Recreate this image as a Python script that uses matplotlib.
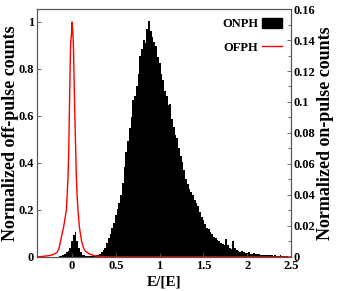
import numpy as np
import matplotlib
matplotlib.use("Agg")
import matplotlib.pyplot as plt
from matplotlib.patches import Patch
from matplotlib.lines import Line2D

plt.rcParams["font.family"] = ["Liberation Serif", "DejaVu Serif"]
plt.rcParams["font.weight"] = "bold"

# ────────────────────────────────
# Data
# ────────────────────────────────
# on-pulse histogram, bin width 0.02, right axis
ONPH_START = -0.15
ONPH_WIDTH = 0.02
onph_counts = [
    0.0003, 0.0005, 0.0010, 0.0020, 0.0030, 0.0040, 0.0060, 0.0100, 0.0140, 0.0160,
    0.0100, 0.0060, 0.0030, 0.0015, 0.0010, 0.0006, 0.0005, 0.0005, 0.0006, 0.0007,
    0.0008, 0.0010, 0.0015, 0.0020, 0.0030, 0.0045, 0.0060, 0.0090, 0.0120, 0.0150,
    0.0190, 0.0220, 0.0270, 0.0310, 0.0350, 0.0400, 0.0480, 0.0580, 0.0680, 0.0750,
    0.0830, 0.0900, 0.1010, 0.1040, 0.1100, 0.1180, 0.1300, 0.1340, 0.1400, 0.1380,
    0.1470, 0.1520, 0.1460, 0.1420, 0.1390, 0.1360, 0.1290, 0.1250, 0.1180, 0.1140,
    0.1070, 0.1040, 0.0980, 0.0990, 0.0890, 0.0840, 0.0790, 0.0770, 0.0700, 0.0650,
    0.0610, 0.0560, 0.0500, 0.0470, 0.0440, 0.0420, 0.0400, 0.0370, 0.0350, 0.0330,
    0.0290, 0.0260, 0.0240, 0.0210, 0.0190, 0.0180, 0.0160, 0.0150, 0.0130, 0.0120,
    0.0110, 0.0100, 0.0090, 0.0085, 0.0080, 0.0115, 0.0075, 0.0060, 0.0050, 0.0100,
    0.0060, 0.0045, 0.0040, 0.0035, 0.0040, 0.0030, 0.0028, 0.0025, 0.0030, 0.0022,
    0.0020, 0.0025, 0.0018, 0.0016, 0.0020, 0.0014, 0.0013, 0.0015, 0.0012, 0.0011,
    0.0013, 0.0010, 0.0009, 0.0011, 0.0009, 0.0008, 0.0010, 0.0008, 0.0007, 0.0009,
    0.0008,
]

# off-pulse curve, left axis
ofph_e = [-0.40, -0.32, -0.26, -0.22, -0.19, -0.17, -0.15, -0.133, -0.115, -0.095,
          -0.08, -0.065, -0.055, -0.046, -0.038, -0.03, -0.022, -0.016, -0.008, 0.0,
          0.008, 0.015, 0.022, 0.03, 0.04, 0.049, 0.058, 0.068, 0.075, 0.083,
          0.095, 0.11, 0.13, 0.15, 0.17, 0.20, 0.25, 0.30, 0.40, 2.50]
ofph_counts = [0.0, 0.003, 0.006, 0.01, 0.015, 0.02, 0.035, 0.065, 0.095, 0.13,
               0.165, 0.20, 0.27, 0.34, 0.45, 0.63, 0.80, 0.91, 0.94, 1.0,
               0.96, 0.91, 0.78, 0.63, 0.48, 0.34, 0.26, 0.20, 0.165, 0.13,
               0.10, 0.065, 0.04, 0.025, 0.02, 0.012, 0.006, 0.003, 0.0, 0.0]

xticks = [0, 0.5, 1, 1.5, 2, 2.5]
left_ticks = [0, 0.2, 0.4, 0.6, 0.8, 1]
right_ticks = [0, 0.02, 0.04, 0.06, 0.08, 0.1, 0.12, 0.14, 0.16]


def fmt(v):
    return "%g" % v


# ────────────────────────────────
# Figure
# ────────────────────────────────
fig = plt.figure(figsize=(3.46, 2.91), dpi=100)
ax = fig.add_axes([0.107, 0.117, 0.734, 0.852])
ax2 = ax.twinx()

centers = ONPH_START + ONPH_WIDTH * np.arange(len(onph_counts)) + ONPH_WIDTH / 2
ax2.bar(centers, onph_counts, width=ONPH_WIDTH, color="black", linewidth=0, zorder=2)
ax.plot(ofph_e, ofph_counts, color="red", lw=1.0, zorder=3)

# left axis above right so the red line is on top
ax.set_zorder(ax2.get_zorder() + 1)
ax.patch.set_visible(False)

ax.set_xlim(-0.4, 2.5)
ax.set_ylim(0, 1.055)
ax2.set_ylim(0, 0.16)

ax.set_xticks(xticks)
ax.set_xticklabels([fmt(v) for v in xticks], fontsize=9, fontweight="bold")
ax.set_yticks(left_ticks)
ax.set_yticklabels([fmt(v) for v in left_ticks], fontsize=9, fontweight="bold")
ax2.set_yticks(right_ticks)
ax2.set_yticklabels([fmt(v) for v in right_ticks], fontsize=9, fontweight="bold")
ax2.set_yticks(np.arange(0.01, 0.16, 0.02), minor=True)

ax.tick_params(axis="both", direction="in", length=3, width=0.6, pad=2, colors="#555555",
               labelcolor="black")
ax2.tick_params(axis="y", which="both", direction="in", length=3, width=0.6, pad=2,
                colors="#555555", labelcolor="black")
ax2.tick_params(axis="y", which="minor", length=2)

for a in (ax, ax2):
    for s in a.spines.values():
        s.set_color("#555555")
        s.set_linewidth(0.8)

ax.set_xlabel("E/[E]", fontsize=11, fontweight="bold", labelpad=3)
ax.set_ylabel("Normalized off-pulse counts", fontsize=13, fontweight="bold", labelpad=0)
ax2.set_ylabel("Normalized on-pulse counts", fontsize=13, fontweight="bold", labelpad=1)

handles = [Patch(facecolor="black", edgecolor="black"),
           Line2D([0], [0], color="red", lw=1.0)]
ax.legend(handles, ["ONPH", "OFPH"], loc="upper right", frameon=False, markerfirst=False,
          prop={"size": 9, "weight": "bold"}, handlelength=1.6, handleheight=0.9,
          handletextpad=0.3, borderaxespad=0.3, labelspacing=0.9)

fig.savefig("out.png", dpi=100)
